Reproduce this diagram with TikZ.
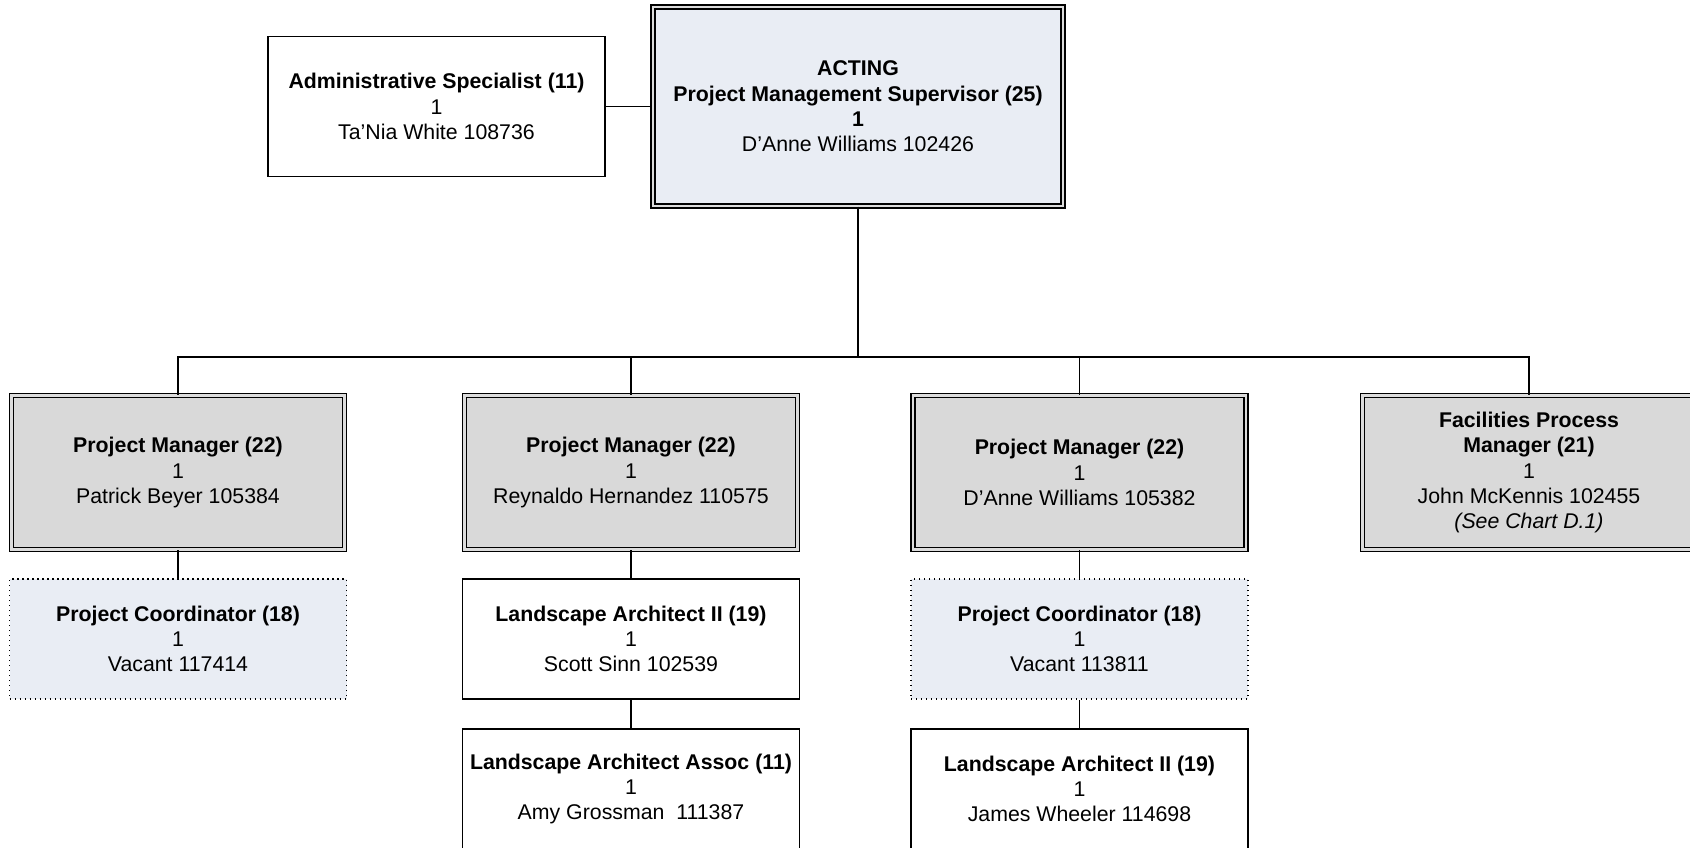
\documentclass[tikz,border=0pt]{standalone}
\usepackage{fontspec}
\setmainfont{Liberation Sans}
\definecolor{paleblue}{HTML}{E9EDF4}
\definecolor{boxgray}{HTML}{D9D9D9}
\definecolor{gapgray}{HTML}{DCDCDC}
\begin{document}
\begin{tikzpicture}[x=1pt,y=-1pt,
  every node/.style={align=center, inner sep=0pt, font=\fontsize{21.3}{25.3}\selectfont},
  plainbox/.style={draw=black, line width=1.3pt, fill=white, minimum width=337pt, minimum height=120pt},
  dblbox/.style={draw=black, line width=1.4pt, double=gapgray, double distance=2.6pt, minimum width=333pt, minimum height=154pt},
  vacantbox/.style={draw=black, line width=1.2pt, dash pattern=on 1.2pt off 3.8pt, fill=paleblue, minimum width=337pt, minimum height=120pt},
  link/.style={draw=black, line width=1.7pt}]
\clip (0,0) rectangle (1690,848);
\fill[white] (0,0) rectangle (1690,848);

\node[dblbox, fill=paleblue, minimum width=410pt, minimum height=199pt] (top) at (858,106.5)
  {\textbf{ACTING}\\\textbf{Project Management Supervisor (25)}\\\textbf{1}\\D’Anne Williams 102426};
\node[plainbox, minimum height=140pt] (admin) at (436.5,106.5)
  {\textbf{Administrative Specialist (11)}\\1\\Ta’Nia White 108736};

\node[dblbox, fill=boxgray] (pm1) at (178,472.5)
  {\textbf{Project Manager (22)}\\1\\Patrick Beyer 105384};
\node[dblbox, fill=boxgray] (pm2) at (631,472.5)
  {\textbf{Project Manager (22)}\\1\\Reynaldo Hernandez 110575};
\node[dblbox, fill=boxgray] (pm3) at (1079.5,472.5)
  {\textbf{Project Manager (22)}\\1\\D’Anne Williams 105382};
\node[dblbox, fill=boxgray] (fpm) at (1529,472.5)
  {\textbf{Facilities Process}\\\textbf{Manager (21)}\\1\\John McKennis 102455\\\textit{(See Chart D.1)}};

\node[vacantbox] (pc1) at (178,639)
  {\textbf{Project Coordinator (18)}\\1\\Vacant 117414};
\node[plainbox] (la1) at (631,639)
  {\textbf{Landscape Architect II (19)}\\1\\Scott Sinn 102539};
\node[vacantbox] (pc3) at (1079.5,639)
  {\textbf{Project Coordinator (18)}\\1\\Vacant 113811};

\node[plainbox] (laa) at (631,789)
  {\textbf{Landscape Architect Assoc (11)}\\1\\Amy Grossman~~111387};
\node[plainbox] (la3) at (1079.5,789)
  {\textbf{Landscape Architect II (19)}\\1\\James Wheeler 114698};

\coordinate (bus) at (858,357);
\draw[link] (admin.east) -- (top.west |- admin.east);
\draw[link] (top.south) -- (bus);
\draw[link] (pm1.north) -- (pm1.north |- bus) -- (fpm.north |- bus) -- (fpm.north);
\draw[link] (pm2.north) -- (pm2.north |- bus);
\draw[link] (pm3.north) -- (pm3.north |- bus);
\draw[link] (pm1.south) -- (pc1.north);
\draw[link] (pm2.south) -- (la1.north);
\draw[link] (la1.south) -- (laa.north);
\draw[link] (pm3.south) -- (pc3.north);
\draw[link] (pc3.south) -- (la3.north);
\end{tikzpicture}
\end{document}
